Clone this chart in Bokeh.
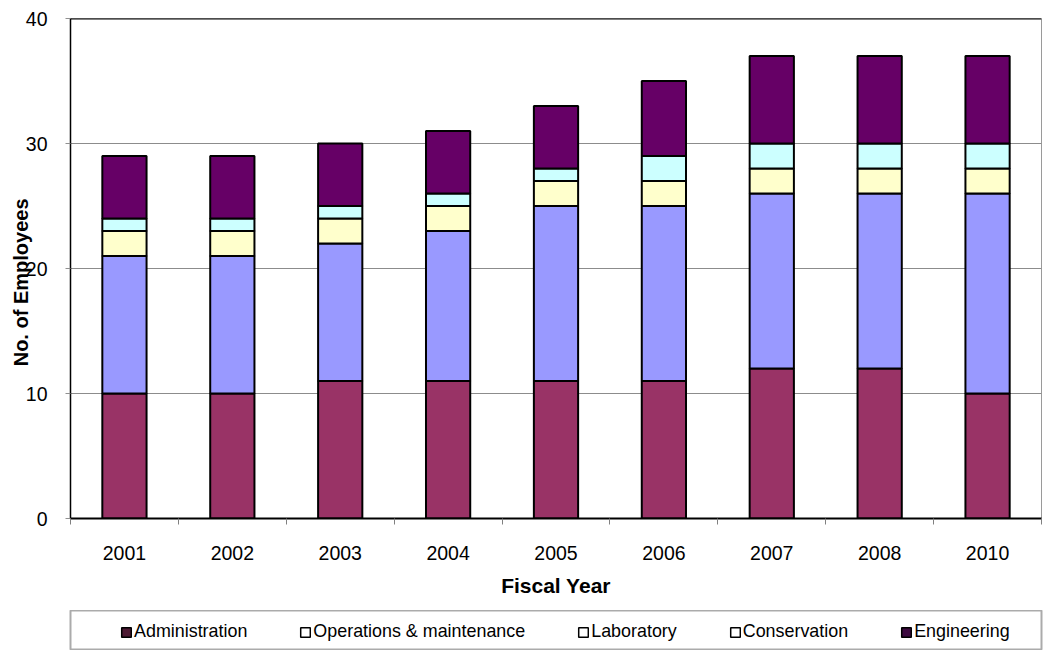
from bokeh.plotting import figure
from bokeh.layouts import column
from bokeh.models import Range1d, FixedTicker, Legend, LegendItem, Span
from bokeh.embed import file_html
from bokeh.resources import INLINE

# ---- data ----
years = ["2001", "2002", "2003", "2004", "2005", "2006", "2007", "2008", "2010"]
administration = [10, 10, 11, 11, 11, 11, 12, 12, 10]
operations = [11, 11, 11, 12, 14, 14, 14, 14, 16]
laboratory = [2, 2, 2, 2, 2, 2, 2, 2, 2]
conservation = [1, 1, 1, 1, 1, 2, 2, 2, 2]
engineering = [5, 5, 5, 5, 5, 6, 7, 7, 7]
series_names = ["Administration", "Operations & maintenance", "Laboratory",
                "Conservation", "Engineering"]
y_ticks = [0, 10, 20, 30, 40]

bar_colors = ["#993366", "#9999FF", "#FFFFCC", "#CCFFFF", "#660066"]
legend_colors = ["#4D1A33", "#FFFFFF", "#FFFFFF", "#FFFFFF", "#3D0A40"]

FONT = "Liberation Sans"
W = 1044
NAN = float("nan")

n = len(years)
xpos = [i + 0.5 for i in range(n)]
data = dict(x=xpos, administration=administration, operations=operations,
            laboratory=laboratory, conservation=conservation, engineering=engineering)
keys = ["administration", "operations", "laboratory", "conservation", "engineering"]

p = figure(width=W, height=610, output_backend="svg", toolbar_location=None,
           x_range=Range1d(0, n), y_range=Range1d(0, 40),
           min_border_left=69, min_border_right=3, min_border_top=18,
           min_border_bottom=92)

p.vbar_stack(keys, x="x", width=0.41, source=data, fill_color=bar_colors,
             line_color="black", line_width=2)

# grid / frame
p.xgrid.visible = False
p.ygrid.ticker = FixedTicker(ticks=[10, 20, 30])
p.ygrid.grid_line_color = "#8C8C8C"
p.ygrid.grid_line_width = 1
p.outline_line_color = "#9A9A9A"
p.outline_line_width = 1
p.add_layout(Span(location=40, dimension="width", line_color="black", line_width=2))
p.background_fill_color = "white"
p.border_fill_color = "white"

# x axis
xa = p.xaxis[0]
xa.ticker = FixedTicker(ticks=xpos, minor_ticks=list(range(n + 1)))
xa.major_label_overrides = {x: y for x, y in zip(xpos, years)}
xa.major_tick_out = 0
xa.major_tick_in = 0
xa.minor_tick_out = 6
xa.minor_tick_in = 0
xa.minor_tick_line_color = "#808080"
xa.axis_line_color = "black"
xa.axis_line_width = 2
xa.major_label_standoff = 21
xa.major_label_text_font = FONT
xa.major_label_text_font_size = "19.5px"
xa.major_label_text_color = "black"
xa.axis_label = "Fiscal Year"
xa.axis_label_text_font = FONT
xa.axis_label_text_font_style = "bold"
xa.axis_label_text_font_size = "21px"
xa.axis_label_text_color = "black"
xa.axis_label_standoff = 11

# y axis
ya = p.yaxis[0]
ya.ticker = FixedTicker(ticks=y_ticks)
ya.major_tick_out = 5
ya.major_tick_in = 0
ya.major_tick_line_color = "#909090"
ya.minor_tick_out = 0
ya.minor_tick_in = 0
ya.axis_line_color = "black"
ya.axis_line_width = 1.5
ya.major_label_standoff = 18
ya.major_label_text_font = FONT
ya.major_label_text_font_size = "19.5px"
ya.major_label_text_color = "black"
ya.axis_label = "No. of Employees" + "\u00a0" * 5
ya.axis_label_text_font = FONT
ya.axis_label_text_font_style = "bold"
ya.axis_label_text_font_size = "20px"
ya.axis_label_text_color = "black"
ya.axis_label_standoff = -9

# ---- legend strip (separate figure whose frame outline is the legend box) ----
q = figure(width=W, height=40, output_backend="svg", toolbar_location=None,
           x_range=Range1d(0, 1), y_range=Range1d(0, 1),
           x_axis_type=None, y_axis_type=None,
           min_border_left=70, min_border_right=0, min_border_top=0,
           min_border_bottom=0)
q.outline_line_color = "#ABABAB"
q.outline_line_width = 2
q.background_fill_color = "white"
q.border_fill_color = "white"

items = []
for name, col in zip(series_names, legend_colors):
    # legend-only proxy renderer (no visible mark: NaN geometry)
    r = q.quad(left=[NAN], right=[NAN], top=[NAN], bottom=[NAN], fill_color=col,
               line_color="black", line_width=1.5)
    items.append(LegendItem(label=name, renderers=[r]))

lg = Legend(items=items, location=(50, 8), orientation="horizontal",
            padding=0, margin=0, spacing=52, border_line_color=None,
            background_fill_alpha=0, glyph_width=12, glyph_height=12,
            label_standoff=2, label_text_font=FONT,
            label_text_font_size="17.9px", label_text_color="black",
            label_height=20)
q.add_layout(lg, "center")

layout = column(p, q, spacing=0)
open("out.html", "w").write(file_html(layout, INLINE))
